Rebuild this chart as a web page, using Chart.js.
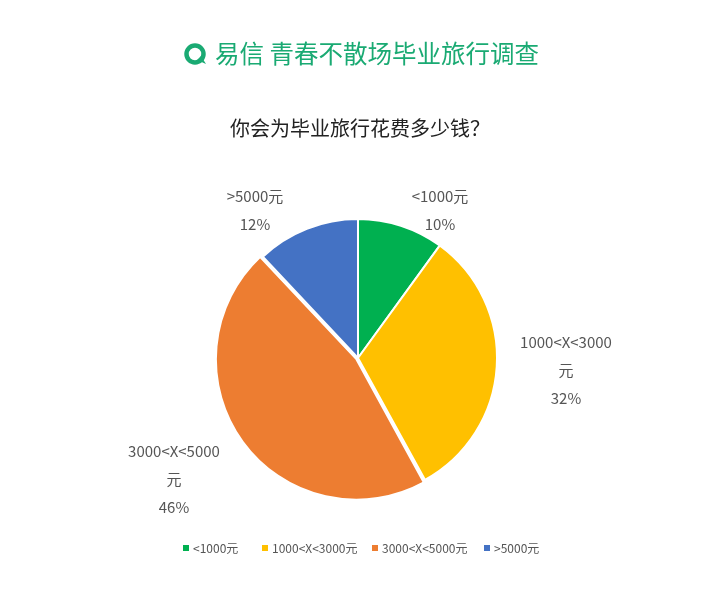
<!DOCTYPE html>
<html><head><meta charset="utf-8">
<script src="https://cdn.jsdelivr.net/npm/chart.js@4/dist/chart.umd.min.js"></script>
<style>
html,body{margin:0;padding:0;background:#fff;width:720px;height:595px;overflow:hidden;font-family:"Noto Sans CJK SC","Noto Sans",sans-serif}
#wrap{position:absolute;left:0;top:0;width:720px;height:595px}
</style></head><body>
<div id="wrap"><canvas id="c" width="720" height="595"></canvas></div>
<script>
const categories = ['<1000元', '1000<X<3000元', '3000<X<5000元', '>5000元'];
const values = [10, 32, 46, 12];
const colors = ['#00b050', '#ffc000', '#ed7d31', '#4472c4'];
const offsets = [0, 0, 8, 0];
const labelLines = [['<1000元','10%'], ['1000<X<3000','元','32%'], ['3000<X<5000','元','46%'], ['>5000元','12%']];
const labelPos = [[440,196],[566,342],[174,451],[255,196]];

const FONT = '"Noto Sans CJK SC","Noto Sans",sans-serif';
const deco = {
  id:'deco',
  beforeDraw(chart){
    const ctx = chart.ctx;
    ctx.save();
    ctx.fillStyle='rgba(0,0,0,0.06)';
    ctx.font='60px '+FONT; ctx.textAlign='left'; ctx.textBaseline='middle';
    ctx.fillText('易信', 330, 300);
    ctx.beginPath(); ctx.lineWidth=16; ctx.strokeStyle='rgba(0,0,0,0.06)';
    ctx.arc(285,300,26,0,Math.PI*2); ctx.stroke();
    ctx.restore();
  },
  afterDraw(chart){
    const ctx = chart.ctx;
    ctx.save();
    ctx.strokeStyle='#1aaa73'; ctx.fillStyle='#1aaa73'; ctx.lineWidth=4.5;
    ctx.beginPath(); ctx.arc(195,54,8.5,0,Math.PI*2); ctx.stroke();
    ctx.beginPath(); ctx.moveTo(197,60); ctx.lineTo(206,64); ctx.lineTo(201,56); ctx.fill();
    ctx.font='24.5px '+FONT; ctx.textAlign='left'; ctx.textBaseline='middle';
    ctx.fillText('易信 青春不散场毕业旅行调查', 215, 54);
    ctx.fillStyle='#222'; ctx.font='20px '+FONT; ctx.textAlign='center';
    ctx.fillText('你会为毕业旅行花费多少钱？', 360, 128);
    ctx.fillStyle='#555'; ctx.font='15px '+FONT;
    labelLines.forEach((ls,i)=>{
      const [x,y]=labelPos[i];
      ls.forEach((t,j)=>ctx.fillText(t, x, y + j*28));
    });
    ctx.font='12px '+FONT; ctx.textAlign='left';
    const lx=[183,262,372,484];
    categories.forEach((c,i)=>{
      ctx.fillStyle=colors[i]; ctx.fillRect(lx[i],545,6,6);
      ctx.fillStyle='#555'; ctx.fillText(c, lx[i]+10, 548);
    });
    ctx.restore();
  }
};

new Chart(document.getElementById('c'), {
  type:'pie',
  data:{labels:categories, datasets:[{data:values, backgroundColor:colors, borderColor:'#fff', borderWidth:2, offset:offsets}]},
  options:{
    responsive:false, animation:false,
    layout:{padding:{left:214,right:218,top:214,bottom:93}},
    plugins:{legend:{display:false}, tooltip:{enabled:false}, title:{display:false}}
  },
  plugins:[deco]
});
</script>
</body></html>
